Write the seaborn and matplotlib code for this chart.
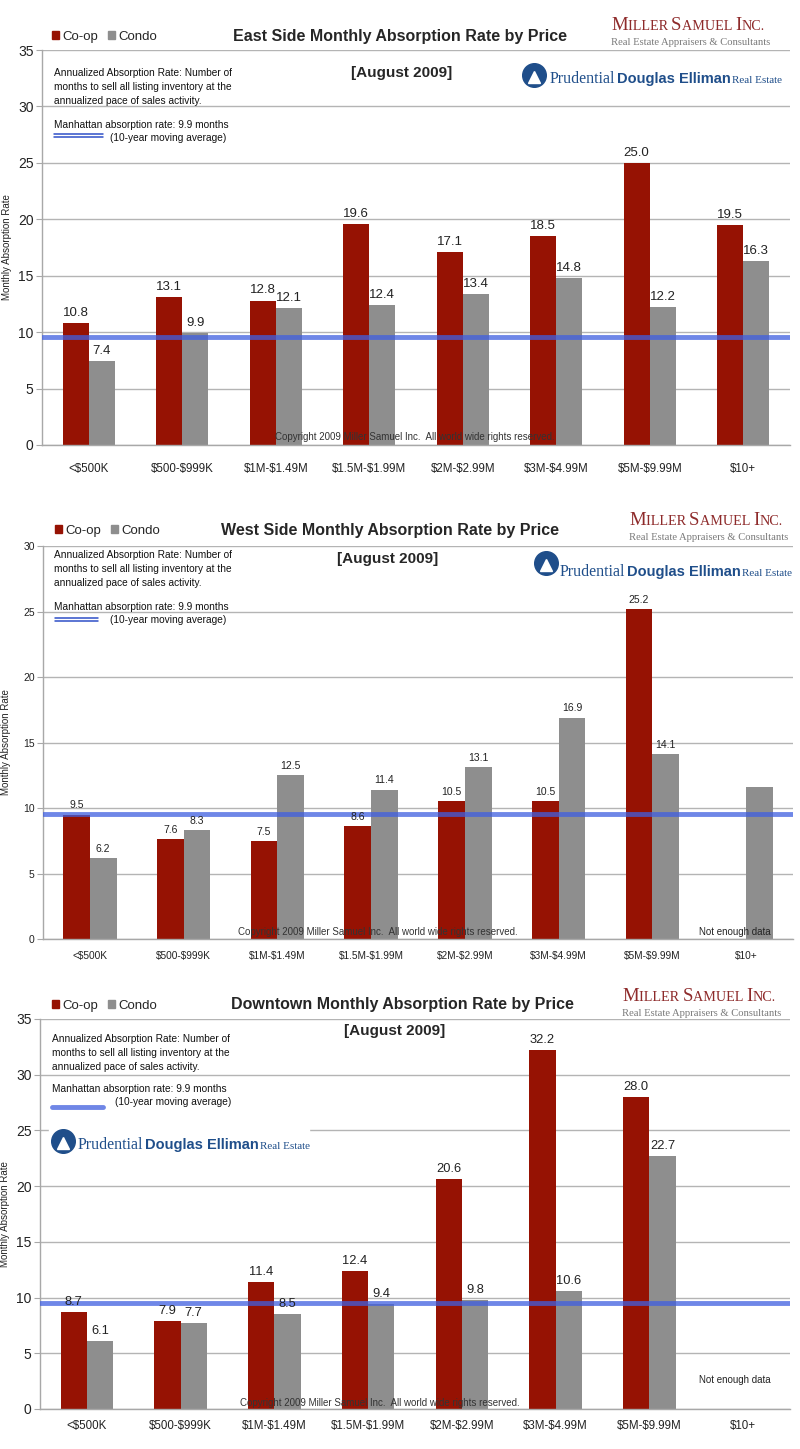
import numpy as np
import pandas as pd
import seaborn as sns
import matplotlib.pyplot as plt
from matplotlib.patches import Patch, Rectangle
from matplotlib.lines import Line2D

# ---- data ----
price_ranges = ['<$500K', '$500-$999K', '$1M-$1.49M', '$1.5M-$1.99M',
                '$2M-$2.99M', '$3M-$4.99M', '$5M-$9.99M', '$10+']

east_coop  = [10.8, 13.1, 12.8, 19.6, 17.1, 18.5, 25.0, 19.5]
east_condo = [7.4, 9.9, 12.1, 12.4, 13.4, 14.8, 12.2, 16.3]

west_coop  = [9.5, 7.6, 7.5, 8.6, 10.5, 10.5, 25.2, np.nan]
west_condo = [6.2, 8.3, 12.5, 11.4, 13.1, 16.9, 14.1, 11.6]
west_condo_labels = ['6.2', '8.3', '12.5', '11.4', '13.1', '16.9', '14.1', '']

down_coop  = [8.7, 7.9, 11.4, 12.4, 20.6, 32.2, 28.0, np.nan]
down_condo = [6.1, 7.7, 8.5, 9.4, 9.8, 10.6, 22.7, np.nan]

manhattan_rate = 9.9      # quoted in the note
manhattan_line = 9.55     # where the line sits on the charts

COOP, CONDO = '#961203', '#8E8E8E'
LINE_BLUE = '#3F5FE0'

sns.set_style('white')
plt.rcParams['font.family'] = ['Liberation Sans', 'DejaVu Sans']
plt.rcParams['text.parse_math'] = False

W, H = 800, 1449
fig = plt.figure(figsize=(8, 14.49), dpi=100)
renderer = fig.canvas.get_renderer()


def fx(x):
    return x / W


def fy(y):
    return 1 - y / H


def run_text(x, y, pieces, **kw):
    # place pieces of text one after another on a common baseline
    for s, size, extra in pieces:
        t = fig.text(fx(x), fy(y), s, fontsize=size, ha='left', va='baseline', **kw, **extra)
        x += t.get_window_extent(renderer).width


def miller_logo(x, y):
    big, small = 13.5, 10.2
    ser = dict(family=['Liberation Serif', 'DejaVu Serif'])
    run_text(x, y, [('M', big, {}), ('ILLER ', small, {}), ('S', big, {}),
                    ('AMUEL ', small, {}), ('I', big, {}), ('NC.', small, {})],
             color='#8E2B2B', **ser)
    fig.text(fx(x), fy(y + 15), 'Real Estate Appraisers & Consultants', fontsize=7.7,
             color='#7A7A7A', ha='left', va='baseline', **ser)


def prudential_logo(cx, cy, x, y, white_box=False):
    if white_box:
        fig.add_artist(Rectangle((fx(cx - 14), fy(cy + 17)), 260 / W, 34 / H,
                                 transform=fig.transFigure, color='white', zorder=1))
    fig.add_artist(Line2D([fx(cx)], [fy(cy)], marker='o', ms=17, color='#1F4E8A',
                          transform=fig.transFigure, zorder=2))
    fig.add_artist(Line2D([fx(cx)], [fy(cy + 2)], marker='^', ms=8, color='white',
                          transform=fig.transFigure, zorder=2))
    run_text(x, y, [('Prudential', 11.5, dict(family=['Liberation Serif', 'DejaVu Serif'])),
                    (' ', 3, {}),
                    ('Douglas Elliman', 10.5, dict(weight='bold')),
                    (' ', 3, {}),
                    ('Real Estate', 8, dict(family=['Liberation Serif', 'DejaVu Serif']))],
             color='#1F4E8A', zorder=3)


def draw_panel(p, coop, condo, coop_labels, condo_labels):
    ax = fig.add_axes([fx(p['left']), fy(p['bottom']),
                       (p['right'] - p['left']) / W, (p['bottom'] - p['top']) / H])
    df = pd.DataFrame({'range': price_ranges * 2,
                       'type': ['Co-op'] * 8 + ['Condo'] * 8,
                       'rate': list(coop) + list(condo)}).dropna()
    sns.barplot(data=df, x='range', y='rate', hue='type', order=price_ranges,
                hue_order=['Co-op', 'Condo'], palette={'Co-op': COOP, 'Condo': CONDO},
                width=p['width'], saturation=1, legend=False, linewidth=0, ax=ax, zorder=2)

    labels = {'Co-op': coop_labels, 'Condo': condo_labels}
    for cont, kind in zip(ax.containers, ['Co-op', 'Condo']):
        for bar in cont:
            i = int(round(bar.get_x() + bar.get_width() / 2))
            ax.annotate(labels[kind][i], (bar.get_x() + bar.get_width() / 2, bar.get_height()),
                        xytext=(0, 3), textcoords='offset points', ha='center', va='bottom',
                        fontsize=p['val_fs'], color='#222222', zorder=5)

    ax.axhline(manhattan_line, color=LINE_BLUE, lw=3.5, alpha=0.75, zorder=4)

    ax.set_xlim(-0.5, 7.5)
    ax.set_ylim(0, p['ymax'])
    ax.set_yticks(np.arange(0, p['ymax'] + 1, 5))
    ax.grid(axis='y', color='#B4B4B4', lw=1, zorder=0)
    ax.set_axisbelow(True)
    for s in ['top', 'right']:
        ax.spines[s].set_visible(False)
    for s in ['left', 'bottom']:
        ax.spines[s].set_color('#A8A8A8')
        ax.spines[s].set_linewidth(1)
    ax.set_xticks(np.arange(-0.5, 8, 1), minor=True)
    ax.tick_params(axis='x', which='major', length=0, pad=p['xpad'], labelsize=p['x_fs'],
                   labelcolor='#222222')
    ax.tick_params(axis='x', which='minor', length=4, color='#A8A8A8', width=1)
    ax.tick_params(axis='y', length=4, color='#A8A8A8', pad=2, labelsize=p['y_fs'],
                   labelcolor='#222222', left=True)
    ax.set_xlabel('')
    ax.set_ylabel('Monthly Absorption Rate', fontsize=7, color='#222222')
    ax.yaxis.set_label_coords(p['ylab_x'], 0.5)

    # copyright sits over the bars, dark text partly lost on the red ones
    ax.text(p['copy_x'], p['copy_y'], 'Copyright 2009 Miller Samuel Inc.  All world wide rights reserved.',
            fontsize=7, color='#333333', ha='center', va='center', zorder=3)
    if p.get('nodata'):
        ax.text(p['nodata'][0], p['nodata'][1], 'Not enough data', fontsize=7,
                color='#222222', ha='center', va='center', zorder=6)

    # header texts
    fig.text(fx(p['title'][0]), fy(p['title'][1]), p['title_txt'], fontsize=11.5,
             weight='bold', ha='center', va='center')
    fig.text(fx(p['sub'][0]), fy(p['sub'][1]), '[August 2009]', fontsize=11,
             weight='bold', ha='center', va='center')
    ax.legend(handles=[Patch(color=COOP, label='Co-op'), Patch(color=CONDO, label='Condo')],
              loc='center left', bbox_to_anchor=(fx(p['leg'][0]), fy(p['leg'][1])),
              bbox_transform=fig.transFigure, ncol=2, frameon=False, fontsize=9.5,
              handlelength=0.55, handleheight=0.55, handletextpad=0.2, columnspacing=0.8,
              borderpad=0, borderaxespad=0)

    nx, ny = p['note']
    for k, line in enumerate(['Annualized Absorption Rate: Number of',
                              'months to sell all listing inventory at the',
                              'annualized pace of sales activity.']):
        fig.text(fx(nx), fy(ny + 14 * k), line, fontsize=7.3, color='#111111',
                 ha='left', va='center')
    mx, my = p['man']
    fig.text(fx(mx), fy(my), f'Manhattan absorption rate: {manhattan_rate} months', fontsize=7.3,
             color='#111111', ha='left', va='center')
    fig.text(fx(p['avg'][0]), fy(p['avg'][1]), '(10-year moving average)', fontsize=7.3,
             color='#111111', ha='left', va='center')
    sx0, sx1, sy = p['sample']
    if p['double']:
        for dy in (-1.5, 1.5):
            fig.add_artist(Line2D([fx(sx0), fx(sx1)], [fy(sy + dy)] * 2, color='#2F4FC8',
                                  lw=1.1, transform=fig.transFigure))
    else:
        fig.add_artist(Line2D([fx(sx0), fx(sx1)], [fy(sy)] * 2, color='#6F86E6',
                              lw=3.5, transform=fig.transFigure))

    miller_logo(*p['miller'])
    prudential_logo(*p['pru'], white_box=p.get('pru_box', False))
    return ax


def fmt(vals):
    return ['' if np.isnan(v) else f'{v:.1f}' for v in vals]


east = dict(left=42, right=790, top=50, bottom=445, ymax=35, width=0.56,
            val_fs=9.5, x_fs=8.3, y_fs=10, xpad=13, ylab_x=-0.04,
            copy_x=3.49, copy_y=0.7,
            title=(400, 36), title_txt='East Side Monthly Absorption Rate by Price',
            sub=(402, 73), leg=(52, 37), note=(54, 73), man=(54, 125),
            avg=(110, 138), sample=(54, 103, 135.5), double=True,
            miller=(611, 30), pru=(534, 75, 550, 83))
west = dict(left=43, right=793, top=546, bottom=939, ymax=30, width=0.57,
            val_fs=7.5, x_fs=7.3, y_fs=7.5, xpad=9, ylab_x=-0.042,
            copy_x=3.07, copy_y=0.55, nodata=(6.88, 0.55),
            title=(390, 530), title_txt='West Side Monthly Absorption Rate by Price',
            sub=(388, 559), leg=(55, 531), note=(54, 555), man=(54, 607),
            avg=(110, 620), sample=(55, 98, 619.5), double=True,
            miller=(629, 525), pru=(546, 563, 560, 576))
down = dict(left=40, right=790, top=1019, bottom=1409, ymax=35, width=0.56,
            val_fs=9.3, x_fs=8.3, y_fs=10, xpad=8, ylab_x=-0.04,
            copy_x=3.12, copy_y=0.5, nodata=(6.91, 2.6),
            title=(402, 1005), title_txt='Downtown Monthly Absorption Rate by Price',
            sub=(395, 1031), leg=(52, 1006), note=(52, 1039), man=(52, 1089),
            avg=(115, 1102), sample=(52, 103, 1107), double=False,
            miller=(622, 1001), pru=(62.5, 1141, 78, 1149), pru_box=True)

draw_panel(east, east_coop, east_condo, fmt(east_coop), fmt(east_condo))
draw_panel(west, west_coop, west_condo, fmt(west_coop), west_condo_labels)
draw_panel(down, down_coop, down_condo, fmt(down_coop), fmt(down_condo))

fig.savefig('out.png', dpi=100)
